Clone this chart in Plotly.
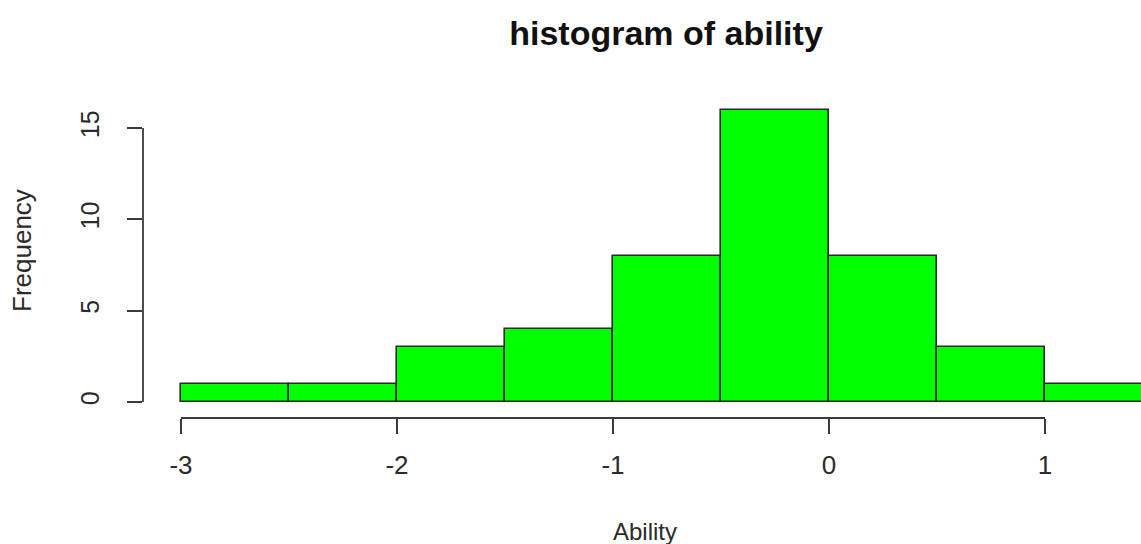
import plotly.graph_objects as go

# Histogram bins (left edges, width 0.5) and their counts
bin_left = [-3.0, -2.5, -2.0, -1.5, -1.0, -0.5, 0.0, 0.5, 1.0]
bin_width = 0.5
counts = [1, 1, 3, 4, 8, 16, 8, 3, 1]

x_ticks = [-3, -2, -1, 0, 1]
y_ticks = [0, 5, 10, 15]

FONT = "Arial, Liberation Sans, sans-serif"
TEXT = "#2b2b2b"
AXIS = "#3a3a3a"

fig = go.Figure()
fig.add_trace(go.Bar(
    x=bin_left,
    y=counts,
    width=[bin_width] * len(counts),
    offset=0,
    marker=dict(color="#00ff00", line=dict(color="#2a2a2a", width=1.6)),
    hoverinfo="x+y",
))

W, H = 1141, 544
L, T, B = 143, 60, 126   # plot region: x 143..1141, y 60..418
px_per_x = 216.0
px_per_y = 18.267
x0_pix = 181  # pixel of x = -3
y0_pix = 402  # pixel of y = 0

x_range = [x_ticks[0] - (x0_pix - L) / px_per_x,
           x_ticks[0] + (W - x0_pix) / px_per_x]
y_range = [-((H - B) - y0_pix) / px_per_y,
           (y0_pix - T) / px_per_y]

fig.update_layout(
    width=W, height=H,
    margin=dict(l=L, r=0, t=T, b=B),
    paper_bgcolor="white", plot_bgcolor="white",
    showlegend=False,
    bargap=0,
    font=dict(family=FONT, color=TEXT, size=24),
    title=dict(
        text="<b>histogram of ability</b>",
        x=666 / W, xref="container", xanchor="center",
        y=1 - 33 / H, yref="container", yanchor="middle",
        font=dict(family=FONT, size=34, color="#111111"),
    ),
    xaxis=dict(
        range=x_range, tickvals=x_ticks, ticktext=[str(v) for v in x_ticks],
        showgrid=False, zeroline=False, showline=False,
        ticks="outside", ticklen=15, tickwidth=1.8, tickcolor=AXIS,
        tickfont=dict(size=26, color=TEXT), ticklabelstandoff=9,
    ),
    yaxis=dict(
        range=y_range, tickvals=y_ticks, ticktext=[str(v) for v in y_ticks],
        showgrid=False, zeroline=False, showline=False,
        ticks="outside", ticklen=15, tickwidth=1.8, tickcolor=AXIS,
        tickangle=-90, tickfont=dict(size=25, color=TEXT), ticklabelstandoff=18,
    ),
)

# R-style axis lines spanning only the tick range
fig.add_shape(type="line", xref="x", yref="paper",
              x0=min(x_ticks), x1=max(x_ticks), y0=0, y1=0,
              line=dict(color=AXIS, width=1.8))
fig.add_shape(type="line", xref="paper", yref="y",
              x0=0, x1=0, y0=min(y_ticks), y1=max(y_ticks),
              line=dict(color=AXIS, width=1.8))

# Axis titles
fig.add_annotation(text="Ability", xref="paper", yref="paper",
                   x=(645 - L) / (W - L), y=-(531 - (H - B)) / (H - T - B),
                   xanchor="center", yanchor="middle", showarrow=False,
                   font=dict(size=24, color=TEXT))
fig.add_annotation(text="Frequency", xref="paper", yref="paper",
                   x=(22 - L) / (W - L), y=((H - B) - 251) / (H - T - B),
                   xanchor="center", yanchor="middle", showarrow=False,
                   textangle=-90, font=dict(size=26, color=TEXT))

fig.write_html("out.html")
